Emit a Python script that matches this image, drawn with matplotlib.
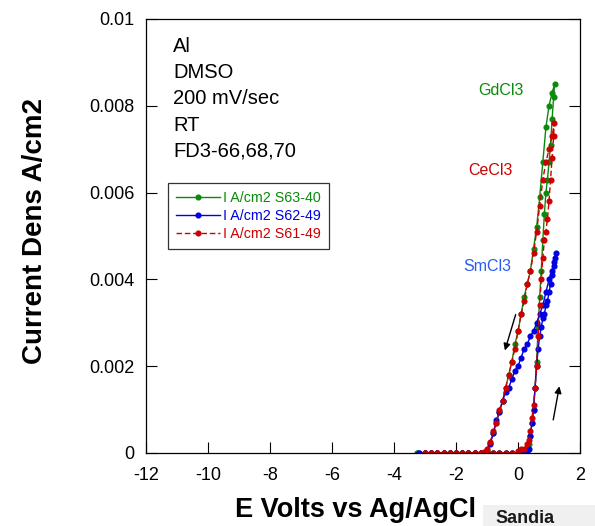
import matplotlib
matplotlib.use("Agg")
import matplotlib.pyplot as plt
from matplotlib.lines import Line2D

plt.rcParams['font.family'] = ['Liberation Sans', 'DejaVu Sans']

# ---- data (E in V vs Ag/AgCl, current density in A/cm2) ----
# GdCl3 (S63-40): forward sweep (negative -> positive) then return
gd_v = ([-3.25, -3.0, -2.8, -2.6, -2.4, -2.2, -2.0, -1.8, -1.6, -1.4, -1.2, -1.0,
         -0.8, -0.6, -0.4, -0.2, 0.0, 0.1, 0.2, 0.3,
         0.35, 0.4, 0.45, 0.5, 0.55, 0.6, 0.65, 0.7, 0.75, 0.8, 0.85, 0.9, 0.95,
         1.0, 1.05, 1.1, 1.15, 1.18,
         1.1, 1.0, 0.9, 0.8, 0.7, 0.6, 0.5, 0.4, 0.3, 0.2, 0.1, 0.0,
         -0.1, -0.2, -0.3, -0.4, -0.5, -0.6, -0.7, -0.8, -0.9, -1.0, -1.1, -1.2,
         -1.4, -1.6, -1.8, -2.0, -2.2, -2.4, -2.6, -2.8, -3.0, -3.25])
gd_i = ([0, 0, 0, 0, 0, 0, 0, 0, 0, 0, 0, 0,
         0, 0, 0, 0, 0.00001, 0.00002, 0.00004, 0.0001,
         0.0002, 0.0004, 0.0007, 0.0010, 0.0015, 0.0021, 0.0029, 0.0036, 0.0042,
         0.0049, 0.0055, 0.0060, 0.0063, 0.0067, 0.0071, 0.0077, 0.0082, 0.0085,
         0.0083, 0.0080, 0.0075, 0.0067, 0.0059, 0.0052, 0.0047, 0.0042, 0.0039,
         0.0036, 0.0032, 0.0028, 0.0025, 0.0021, 0.0018, 0.0015, 0.0012, 0.00095,
         0.0007, 0.00045, 0.00022, 0.00007, 0.00001, 0,
         0, 0, 0, 0, 0, 0, 0, 0, 0, 0])

# SmCl3 (S62-49)
sm_v = ([-3.2, -3.0, -2.8, -2.6, -2.4, -2.2, -2.0, -1.8, -1.6, -1.4, -1.2, -1.0,
         -0.8, -0.6, -0.4, -0.2, 0.0, 0.1, 0.2, 0.3,
         0.35, 0.4, 0.45, 0.5, 0.55, 0.6, 0.65, 0.7, 0.75, 0.8, 0.85, 0.9, 0.95,
         1.0, 1.05, 1.1, 1.15, 1.2, 1.22,
         1.15, 1.1, 1.0, 0.9, 0.8, 0.7, 0.6, 0.5, 0.4, 0.3, 0.2, 0.1, 0.0,
         -0.1, -0.2, -0.3, -0.4, -0.5, -0.6, -0.7, -0.8, -0.9, -1.0,
         -1.2, -1.4, -1.6, -1.8, -2.0, -2.2, -2.4, -2.6, -2.8, -3.0, -3.2])
sm_i = ([0, 0, 0, 0, 0, 0, 0, 0, 0, 0, 0, 0,
         0, 0, 0, 0, 0, 0.00001, 0.00002, 0.00003,
         0.0001, 0.0004, 0.0007, 0.0010, 0.0015, 0.0020, 0.0024, 0.0027, 0.0029,
         0.0031, 0.0032, 0.0034, 0.0035, 0.0037, 0.0039, 0.0041, 0.0043, 0.0045, 0.0046,
         0.0044, 0.0042, 0.0040, 0.0037, 0.0034, 0.0032, 0.0030, 0.0028, 0.0027,
         0.0025, 0.0024, 0.0022, 0.0020, 0.0019, 0.0017, 0.0015, 0.0014, 0.0012,
         0.00095, 0.00075, 0.00045, 0.0002, 0.00003,
         0, 0, 0, 0, 0, 0, 0, 0, 0, 0, 0])

# CeCl3 (S61-49)
ce_v = ([-3.0, -2.8, -2.6, -2.4, -2.2, -2.0, -1.8, -1.6, -1.4, -1.2, -1.0,
         -0.8, -0.6, -0.4, -0.2, 0.0, 0.1, 0.2, 0.3,
         0.35, 0.4, 0.45, 0.5, 0.55, 0.6, 0.65, 0.7, 0.75, 0.8, 0.85, 0.9, 0.95,
         1.0, 1.05, 1.1, 1.15, 1.17,
         1.1, 1.0, 0.9, 0.8, 0.7, 0.6, 0.5, 0.4, 0.3, 0.2, 0.1, 0.0,
         -0.1, -0.2, -0.3, -0.4, -0.5, -0.6, -0.7, -0.8, -0.9, -1.0, -1.1, -1.2,
         -1.4, -1.6, -1.8, -2.0, -2.2, -2.4, -2.6, -2.8, -3.0])
ce_i = ([0, 0, 0, 0, 0, 0, 0, 0, 0, 0, 0,
         0, 0, 0, 0, 0.00005, 0.0001, 0.0001, 0.0002,
         0.0003, 0.0005, 0.0008, 0.0011, 0.0015, 0.0020, 0.0027, 0.0034, 0.0040,
         0.0045, 0.0049, 0.0051, 0.0054, 0.0058, 0.0063, 0.0068, 0.0073, 0.0076,
         0.0073, 0.0070, 0.0067, 0.0063, 0.0057, 0.0051, 0.0046, 0.0042, 0.0039,
         0.0035, 0.0032, 0.0028, 0.0024, 0.0021, 0.0018, 0.0015, 0.0012, 0.0010,
         0.0007, 0.0005, 0.00025, 0.0001, 0.00002, 0,
         0, 0, 0, 0, 0, 0, 0, 0, 0])

series_labels = ["I A/cm2 S63-40", "I A/cm2 S62-49", "I A/cm2 S61-49"]
salt_labels = ["GdCl3", "SmCl3", "CeCl3"]
info_lines = ["Al", "DMSO", "200 mV/sec", "RT", "FD3-66,68,70"]
x_ticks = [-12, -10, -8, -6, -4, -2, 0, 2]
y_ticks = [0, 0.002, 0.004, 0.006, 0.008, 0.01]
y_ticklabels = ["0", "0.002", "0.004", "0.006", "0.008", "0.01"]

green = "#0a8a0a"
blue = "#0000e0"
red = "#cc0000"

fig = plt.figure(figsize=(5.95, 5.26), dpi=100)
ax = fig.add_axes([0.2454, 0.1388, 0.7294, 0.8251])

ms = 3.4
ax.plot(gd_v, gd_i, '-', color=green, lw=1.0, marker='o', ms=ms, mec=green, mfc=green,
        label=series_labels[0])
ax.plot(sm_v, sm_i, '-', color=blue, lw=1.0, marker='o', ms=ms, mec=blue, mfc=blue,
        label=series_labels[1])
ax.plot(ce_v, ce_i, '--', color=red, lw=1.0, marker='o', ms=ms, mec=red, mfc=red,
        dashes=(4, 2), label=series_labels[2])

ax.set_xlim(-12, 2)
ax.set_ylim(0, 0.01)
ax.set_xticks(x_ticks)
ax.set_xticklabels([str(t) for t in x_ticks])
ax.set_yticks(y_ticks)
ax.set_yticklabels(y_ticklabels)
ax.tick_params(direction='in', length=8, width=0.8, labelsize=13, colors='black',
               right=True, top=False)
ax.tick_params(axis='y', pad=8.5)
ax.tick_params(axis='x', pad=10)
for s in ax.spines.values():
    s.set_linewidth(0.9)

ax.set_xlabel("E Volts vs Ag/AgCl", fontsize=19.5, fontweight='bold')
ax.xaxis.set_label_coords(0.482, -0.101)
ax.set_ylabel("Current Dens A/cm2", fontsize=20, fontweight='bold')
ax.yaxis.set_label_coords(-0.226, 0.512)

# info text block
for k, t in enumerate(info_lines):
    ax.text(0.062, 0.924 - k * 0.0604, t, transform=ax.transAxes, fontsize=14.5,
            va='baseline', ha='left', color='black')

# salt labels
ax.text(0.765, 0.825, salt_labels[0], transform=ax.transAxes, fontsize=11.5, color=green)
ax.text(0.730, 0.419, salt_labels[1], transform=ax.transAxes, fontsize=11.5, color="#2a5cf0")
ax.text(0.742, 0.641, salt_labels[2], transform=ax.transAxes, fontsize=11.5, color=red)

# sweep direction arrows
ax.annotate("", xy=(-0.45, 0.00230), xytext=(-0.05, 0.00325),
            arrowprops=dict(arrowstyle='-|>', color='black', lw=1.0, mutation_scale=10))
ax.annotate("", xy=(1.35, 0.00160), xytext=(1.12, 0.00070),
            arrowprops=dict(arrowstyle='-|>', color='black', lw=1.0, mutation_scale=10))

# legend
handles = [
    Line2D([], [], color=green, lw=1.0, marker='o', ms=ms),
    Line2D([], [], color=blue, lw=1.0, marker='o', ms=ms),
    Line2D([], [], color=red, lw=1.0, ls='--', dashes=(4, 2), marker='o', ms=ms),
]
leg = ax.legend(handles, series_labels, loc='upper left', bbox_to_anchor=(0.0507, 0.622),
                fontsize=10.3, frameon=True, fancybox=False, edgecolor='black',
                handlelength=3.1, handletextpad=0.2, borderpad=0.55, labelspacing=0.3,
                borderaxespad=0)
leg.get_frame().set_linewidth(0.9)
for txt, c in zip(leg.get_texts(), [green, blue, red]):
    txt.set_color(c)

# logo text strip
fig.patches.append(plt.Rectangle((0.812, 0.0), 0.188, 0.04, transform=fig.transFigure,
                                 facecolor="#f0f0f0", edgecolor='none', zorder=-1))
fig.text(0.832, 0.006, "Sandia", fontsize=13, fontweight='bold', color='#1a1a1a')

fig.savefig("out.png", dpi=100)
